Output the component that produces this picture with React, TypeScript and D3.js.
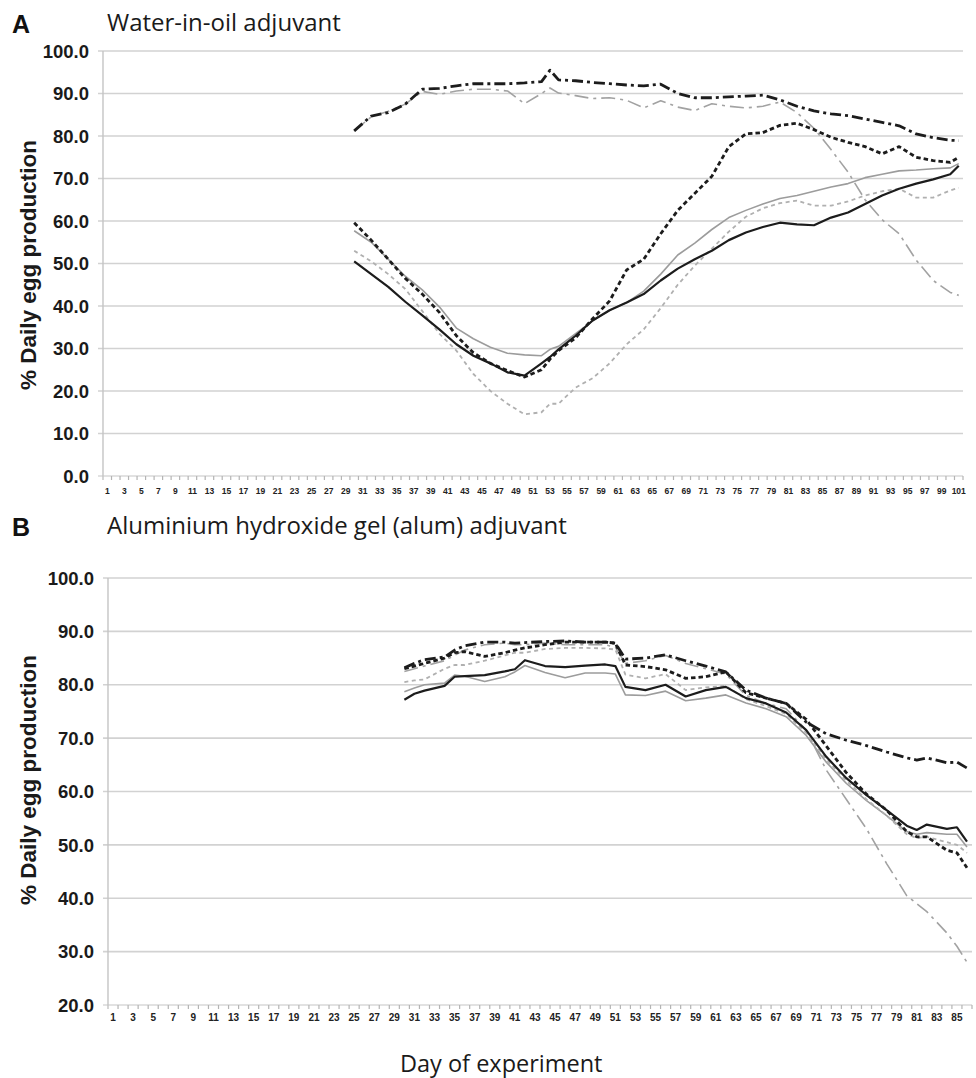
import React from "react";
import * as d3 from "d3";

// ---------- Panel A : Water-in-oil adjuvant ----------
const A_CATEGORIES: number[] = Array.from({ length: 101 }, (_, i) => i + 1);
const A_TICK_LABELS: number[] = A_CATEGORIES.filter((d) => d % 2 === 1);
const A_Y_TICKS: number[] = [0, 10, 20, 30, 40, 50, 60, 70, 80, 90, 100];
const A_DAYS: number[] = [30, 32, 34, 36, 38, 40, 42, 44, 46, 48, 50, 52, 53, 54, 56, 58, 60, 62, 64, 66, 68, 70, 72, 74, 76, 78, 80, 82, 84, 86, 88, 90, 92, 94, 96, 98, 100, 101];
const A_BLACK_SOLID: number[] = [50.5, 47.5, 44.5, 41, 37.8, 34.5, 31, 28.3, 26.5, 24.4, 23.6, 26.5, 28, 29.8, 33, 36.6, 39, 40.8, 42.8, 46, 48.8, 51, 53, 55.5, 57.3, 58.6, 59.6, 59.2, 59, 60.8, 62, 64, 66, 67.6, 68.8, 69.8, 71, 73];
const A_GRAY_SOLID: number[] = [57.7, 55, 51, 47, 43.8, 39.8, 34.8, 32.3, 30.3, 28.9, 28.5, 28.3, 29.8, 30.5, 33.5, 36.5, 39, 40.8, 43.5, 47.5, 52, 54.8, 58, 60.8, 62.5, 64, 65.3, 66, 67, 68, 68.8, 70.2, 71, 71.8, 72, 72.3, 72.5, 73.5];
const A_BLACK_DASHED: number[] = [59.6, 55.5, 51, 46.5, 42.8, 38.5, 33, 29, 26.5, 24.8, 23.3, 25, 27.5, 29.5, 32.5, 37, 41.2, 48.5, 51, 57, 62.5, 66.5, 70.5, 77.5, 80.5, 80.8, 82.5, 83, 81.5, 79.7, 78.5, 77.5, 75.8, 77.5, 75, 74.2, 73.8, 75];
const A_GRAY_DASHED: number[] = [53, 50.5, 47.5, 44, 38.8, 33.5, 29.5, 24, 20, 17, 14.5, 15, 17, 17, 20.8, 23, 26.5, 31, 34.5, 39.5, 45, 49.5, 53.5, 57.5, 61, 63, 64.2, 64.8, 63.6, 63.6, 64.6, 66, 67, 67.6, 65.5, 65.5, 67.2, 67.8];
const A_BLACK_DASHDOT: number[] = [81.2, 84.7, 85.5, 87.5, 91, 91.2, 91.8, 92.3, 92.3, 92.3, 92.5, 92.8, 95.5, 93.2, 93, 92.6, 92.3, 92, 91.8, 92.2, 90, 89, 89, 89.2, 89.4, 89.6, 88.5, 87, 85.9, 85.2, 84.8, 84, 83.2, 82.4, 80.5, 79.6, 79, 78.9];
const A_GRAY_DASHDOT: number[] = [81.2, 84.5, 85.8, 87.5, 90.5, 89.8, 90.6, 91, 91, 90.6, 87.6, 90, 91.3, 90.1, 89.5, 88.8, 89, 88.4, 86.6, 88.3, 86.8, 86, 87.6, 87, 86.6, 87, 88, 85.5, 81.8, 76.8, 71.5, 65, 60.3, 57, 50.8, 46, 43.2, 42.5];

// ---------- Panel B : Aluminium hydroxide gel (alum) adjuvant ----------
const B_CATEGORIES: number[] = Array.from({ length: 86 }, (_, i) => i + 1);
const B_TICK_LABELS: number[] = B_CATEGORIES.filter((d) => d % 2 === 1);
const B_Y_TICKS: number[] = [20, 30, 40, 50, 60, 70, 80, 90, 100];
const B_DAYS: number[] = [30, 31, 32, 34, 35, 36, 38, 40, 41, 42, 44, 46, 48, 50, 51, 52, 54, 56, 58, 60, 62, 64, 66, 68, 70, 72, 74, 76, 78, 80, 81, 82, 84, 85, 86];
const B_BLACK_SOLID: number[] = [77.2, 78.3, 78.9, 79.8, 81.5, 81.6, 81.8, 82.5, 82.9, 84.6, 83.5, 83.3, 83.6, 83.8, 83.5, 79.6, 79, 80, 77.8, 79, 79.6, 77.5, 76.5, 74.8, 71.5, 66.5, 62.5, 59.3, 56.5, 53.6, 52.8, 53.8, 53, 53.3, 50.6];
const B_GRAY_SOLID: number[] = [78.7, 79.4, 80, 80.3, 81.8, 81.6, 80.6, 81.5, 82.4, 83.6, 82.3, 81.3, 82.2, 82.2, 82, 78.1, 78, 78.8, 77, 77.5, 78.1, 76.6, 75.5, 74, 70.5, 65.5, 61.5, 58.3, 55.5, 52.5, 52, 52.3, 52, 52, 49.6];
const B_BLACK_DASHED: number[] = [83, 83.5, 84, 85, 86, 86.2, 85.3, 86, 86.5, 86.9, 87.5, 88, 88, 88, 87.8, 83.7, 83.4, 82.8, 81.2, 81.5, 82.4, 78.5, 77.5, 76.5, 73.5, 68.5, 63.5, 59.5, 56.5, 52.5, 51.5, 51.5, 49, 48.5, 45.7];
const B_GRAY_DASHED: number[] = [80.5, 80.8, 81, 83, 83.7, 83.7, 84.5, 85.5, 86, 86, 86.7, 86.9, 86.9, 86.8, 86.6, 81.9, 81.2, 82, 79, 79.5, 79.8, 77.3, 76, 74.5, 71, 66, 62, 58.5, 55.5, 52, 51.3, 51.5, 50.5, 50, 48.5];
const B_BLACK_DASHDOT: number[] = [83.2, 84, 84.7, 85.2, 86.5, 87.3, 88, 88, 87.8, 87.9, 88.1, 88.2, 88, 88, 87.8, 84.8, 85, 85.6, 84.5, 83.5, 82.4, 79, 77.5, 76.5, 73, 70.8, 69.6, 68.6, 67.4, 66.3, 65.9, 66.3, 65.4, 65.5, 64.4];
const B_GRAY_DASHDOT: number[] = [82.5, 83, 83.5, 84.5, 85.5, 86.5, 87.5, 87.8, 87.5, 87.5, 87.8, 87.5, 87.5, 87.5, 87, 84, 84.5, 85.5, 84, 83, 82, 78, 76.5, 75.5, 71.5, 64, 58.5, 53, 46.5, 40.5, 39, 37.5, 33.5, 31, 28];

// ---------- styles ----------
const STYLE = {
  graySolid: { stroke: "#9c9c9c", width: 1.6, dash: "" },
  grayDashed: { stroke: "#b0b0b0", width: 1.8, dash: "4 3.5" },
  grayDashDot: { stroke: "#a2a2a2", width: 1.6, dash: "14 5 3 5" },
  blackSolid: { stroke: "#1c1c1c", width: 2.2, dash: "" },
  blackDashed: { stroke: "#1c1c1c", width: 2.8, dash: "4.5 3" },
  blackDashDot: { stroke: "#1c1c1c", width: 2.8, dash: "11 4 3 4" },
};

const TICK_FONT = "'Liberation Sans', Arial, Helvetica, sans-serif";
const TITLE_FONT = "'Open Sans', 'Noto Sans', sans-serif";

type Series = { values: number[]; style: { stroke: string; width: number; dash: string } };

type PanelCfg = {
  letter: string;
  title: string;
  titleY: number;
  categories: number[];
  tickLabels: number[];
  yTicks: number[];
  days: number[];
  series: Series[];
  left: number;
  right: number;
  top: number;
  bottom: number;
  xLabelSize: number;
  xLabelOffset: number;
  yTitleY: number;
};

function Panel({ cfg }: { cfg: PanelCfg }) {
  const x = d3.scaleBand<number>().domain(cfg.categories).range([cfg.left, cfg.right]).padding(0);
  const yMin = cfg.yTicks[0];
  const yMax = cfg.yTicks[cfg.yTicks.length - 1];
  const y = d3.scaleLinear().domain([yMin, yMax]).range([cfg.bottom, cfg.top]);
  const bw = x.bandwidth();
  const line = d3
    .line<[number, number]>()
    .x((d) => (x(d[0]) as number) + bw / 2)
    .y((d) => y(d[1]));

  return (
    <g>
      <text x={12} y={cfg.titleY + 2} fontFamily={TICK_FONT} fontWeight="bold" fontSize={25} fill="#111">
        {cfg.letter}
      </text>
      <text x={107} y={cfg.titleY} fontFamily={TITLE_FONT} fontSize={24} fill="#1a1a1a">
        {cfg.title}
      </text>
      {cfg.yTicks.map((t) => (
        <g key={"g" + t}>
          <line
            x1={cfg.left - 5}
            x2={cfg.right}
            y1={y(t)}
            y2={y(t)}
            stroke={t === yMin ? "#d8d8d8" : "#d2d2d2"}
            strokeWidth={1.6}
          />
          <text
            x={cfg.left - 14}
            y={y(t)}
            dy="0.36em"
            textAnchor="end"
            fontFamily={TICK_FONT}
            fontWeight="bold"
            fontSize={18.5}
            fill="#1a1a1a"
          >
            {t.toFixed(1)}
          </text>
        </g>
      ))}
      <line x1={cfg.left} x2={cfg.left} y1={cfg.top} y2={cfg.bottom + 4} stroke="#c4c4c4" strokeWidth={1.4} />
      {cfg.categories.map((c) => (
        <line
          key={"t" + c}
          x1={(x(c) as number) + bw}
          x2={(x(c) as number) + bw}
          y1={cfg.bottom}
          y2={cfg.bottom + 4}
          stroke="#b4b4b4"
          strokeWidth={1.2}
        />
      ))}
      {cfg.tickLabels.map((c) => (
        <text
          key={"l" + c}
          x={(x(c) as number) + bw / 2}
          y={cfg.bottom + cfg.xLabelOffset}
          textAnchor="middle"
          fontFamily={TICK_FONT}
          fontWeight="bold"
          fontSize={cfg.xLabelSize}
          fill="#222"
        >
          {c}
        </text>
      ))}
      <text
        transform={`translate(28,${cfg.yTitleY}) rotate(-90)`}
        textAnchor="middle"
        dy="0.35em"
        fontFamily={TICK_FONT}
        fontWeight="bold"
        fontSize={22.5}
        fill="#1a1a1a"
      >
        % Daily egg production
      </text>
      {cfg.series.map((s, i) => (
        <path
          key={"s" + i}
          d={line(cfg.days.map((d, j) => [d, s.values[j]] as [number, number])) || ""}
          fill="none"
          stroke={s.style.stroke}
          strokeWidth={s.style.width}
          strokeDasharray={s.style.dash || undefined}
          strokeLinejoin="round"
        />
      ))}
    </g>
  );
}

const PANEL_A: PanelCfg = {
  letter: "A",
  title: "Water-in-oil adjuvant",
  titleY: 31,
  categories: A_CATEGORIES,
  tickLabels: A_TICK_LABELS,
  yTicks: A_Y_TICKS,
  days: A_DAYS,
  series: [
    { values: A_GRAY_SOLID, style: STYLE.graySolid },
    { values: A_GRAY_DASHED, style: STYLE.grayDashed },
    { values: A_GRAY_DASHDOT, style: STYLE.grayDashDot },
    { values: A_BLACK_SOLID, style: STYLE.blackSolid },
    { values: A_BLACK_DASHED, style: STYLE.blackDashed },
    { values: A_BLACK_DASHDOT, style: STYLE.blackDashDot },
  ],
  left: 103,
  right: 963,
  top: 51,
  bottom: 476,
  xLabelSize: 8.5,
  xLabelOffset: 18,
  yTitleY: 265,
};

const PANEL_B: PanelCfg = {
  letter: "B",
  title: "Aluminium hydroxide gel (alum) adjuvant",
  titleY: 534,
  categories: B_CATEGORIES,
  tickLabels: B_TICK_LABELS,
  yTicks: B_Y_TICKS,
  days: B_DAYS,
  series: [
    { values: B_GRAY_SOLID, style: STYLE.graySolid },
    { values: B_GRAY_DASHED, style: STYLE.grayDashed },
    { values: B_GRAY_DASHDOT, style: STYLE.grayDashDot },
    { values: B_BLACK_SOLID, style: STYLE.blackSolid },
    { values: B_BLACK_DASHED, style: STYLE.blackDashed },
    { values: B_BLACK_DASHDOT, style: STYLE.blackDashDot },
  ],
  left: 108,
  right: 972,
  top: 578,
  bottom: 1005,
  xLabelSize: 10,
  xLabelOffset: 16,
  yTitleY: 780,
};

export default function App() {
  return (
    <svg
      width={976}
      height={1078}
      viewBox="0 0 976 1078"
      style={{ position: "absolute", left: 0, top: 0, background: "#fff" }}
    >
      <rect x={0} y={0} width={976} height={1078} fill="#fff" />
      <Panel cfg={PANEL_A} />
      <Panel cfg={PANEL_B} />
      <text x={400} y={1072} fontFamily={TITLE_FONT} fontSize={23.5} fill="#1a1a1a">
        Day of experiment
      </text>
    </svg>
  );
}
